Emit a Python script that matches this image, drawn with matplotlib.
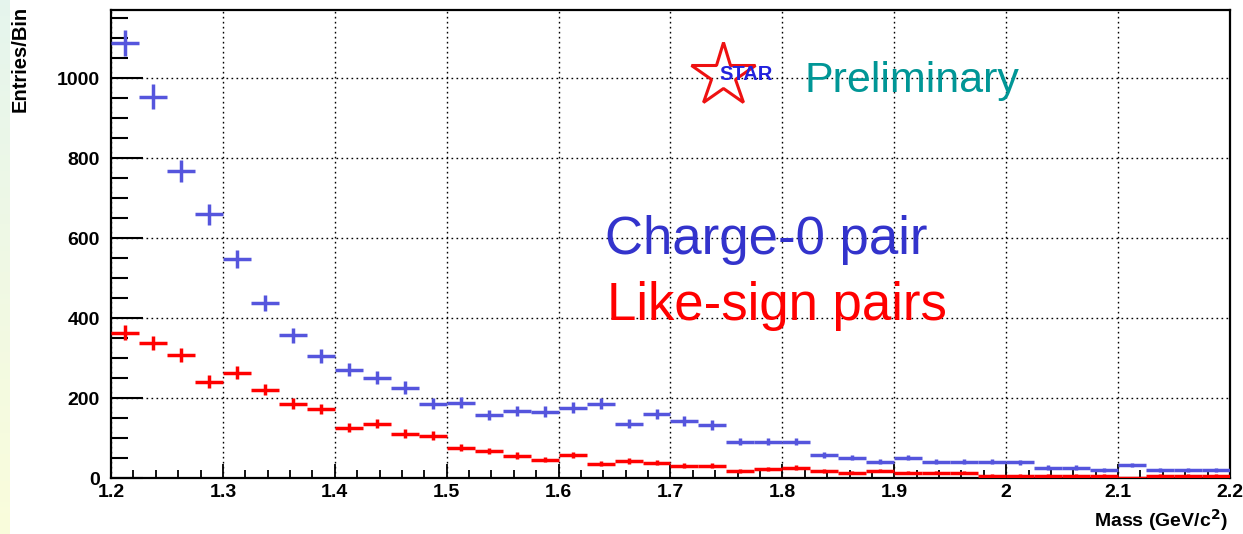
import numpy as np
import matplotlib
matplotlib.use("Agg")
import matplotlib.pyplot as plt
from matplotlib.ticker import MultipleLocator

# Invariant-mass histogram: 40 bins of 0.025 GeV/c^2 from 1.2 to 2.2
bin_lo = 1.2
bin_width = 0.025
charge0_counts = [1089, 954, 768, 660, 548, 438, 358, 306, 272, 252,
                  227, 187, 189, 158, 168, 167, 177, 187, 137, 160,
                  143, 133, 92, 92, 92, 58, 52, 42, 52, 42,
                  42, 41, 40, 27, 27, 21, 33, 21, 21, 21]
likesign_counts = [364, 338, 308, 242, 264, 222, 187, 173, 127, 137,
                   112, 107, 77, 68, 57, 47, 58, 37, 43, 39,
                   32, 32, 18, 23, 27, 18, 14, 19, 14, 14,
                   14, 7, 7, 7, 7, 7, 2, 7, 7, 7]
x_ticks = [1.2, 1.3, 1.4, 1.5, 1.6, 1.7, 1.8, 1.9, 2.0, 2.1, 2.2]
x_ticklabels = ["1.2", "1.3", "1.4", "1.5", "1.6", "1.7", "1.8", "1.9", "2", "2.1", "2.2"]
y_ticks = [0, 200, 400, 600, 800, 1000]

W, H = 1243, 534
fig = plt.figure(figsize=(W / 100, H / 100), dpi=100)
fig.patch.set_facecolor("white")
plt.rcParams["font.family"] = ["Liberation Sans", "DejaVu Sans"]


def fx(px):
    return px / W


def fy(py):
    return 1 - py / H


# pale slide background strip on the far left
strip = fig.add_axes([0, 0, 10 / W, 1])
top_c = np.array([0.90, 0.96, 0.93])
bot_c = np.array([0.98, 0.99, 0.86])
t = np.linspace(0, 1, 100)[:, None, None]
grad = top_c * (1 - t) + bot_c * t
strip.imshow(np.repeat(grad, 2, axis=1), aspect="auto", extent=[0, 1, 0, 1])
strip.axis("off")

ax_l, ax_r, ax_t, ax_b = 111, 1230, 9.5, 478.3
ax = fig.add_axes([fx(ax_l), fy(ax_b), (ax_r - ax_l) / W, (ax_b - ax_t) / H])

centers = bin_lo + bin_width * (np.arange(len(charge0_counts)) + 0.5)
c0 = np.array(charge0_counts, dtype=float)
ls = np.array(likesign_counts, dtype=float)

blue = "#5555dd"
red = "#ff0000"
ax.errorbar(centers, c0, xerr=bin_width / 2, yerr=np.sqrt(c0), fmt="none",
            ecolor=blue, elinewidth=2.5, capsize=0, zorder=3)
ax.errorbar(centers, ls, xerr=bin_width / 2, yerr=np.sqrt(ls), fmt="none",
            ecolor=red, elinewidth=2.5, capsize=0, zorder=4)

ax.set_xlim(1.2, 2.2)
ax.set_ylim(0, 1172)

ax.set_xticks(x_ticks)
ax.set_xticklabels(x_ticklabels)
ax.set_yticks(y_ticks)
ax.xaxis.set_minor_locator(MultipleLocator(0.02))
ax.yaxis.set_minor_locator(MultipleLocator(50))

ax.tick_params(axis="x", which="major", direction="in", length=10, width=1.3,
               labelsize=14, pad=4, top=False)
ax.tick_params(axis="x", which="minor", direction="in", length=6, width=1.3, top=False)
ax.tick_params(axis="y", which="major", direction="in", length=23, width=1.5,
               labelsize=14, pad=8, right=False)
ax.tick_params(axis="y", which="minor", direction="in", length=12, width=1.5, right=False)
for lab in ax.get_xticklabels() + ax.get_yticklabels():
    lab.set_fontweight("bold")

ax.grid(True, which="major", color="black", linestyle=(0, (1.2, 2.4)), linewidth=1.0)
ax.set_axisbelow(True)
for sp in ax.spines.values():
    sp.set_linewidth(1.6)
    sp.set_color("black")

# axis titles, ROOT style (aligned to the ends)
fig.text(fx(20), fy(6), "Entries/Bin", rotation=90, ha="center", va="top",
         fontsize=14.5, fontweight="bold")
fig.text(fx(1228), fy(533), "Mass (GeV/c$^{\\mathbf{2}}$)", ha="right", va="bottom",
         fontsize=14, fontweight="bold")

# legend-like labels
fig.text(fx(605), fy(254.3), "Charge-0 pair", color="#3333cc", fontsize=38,
         ha="left", va="baseline")
fig.text(fx(607), fy(320), "Like-sign pairs", color=red, fontsize=38,
         ha="left", va="baseline")

# STAR logo and preliminary tag
ax.plot([fx(723)], [fy(75)], transform=fig.transFigure, marker="*", markersize=48,
        markerfacecolor="none", markeredgecolor="#ee1111", markeredgewidth=2.2,
        zorder=6, clip_on=False)
fig.text(fx(746), fy(74), "STAR", color="#2222dd", fontsize=14.5, fontweight="bold",
         ha="center", va="center", zorder=7)
fig.text(fx(805), fy(91.7), "Preliminary", color="#009696", fontsize=31,
         ha="left", va="baseline")

fig.savefig("out.png", dpi=100)
